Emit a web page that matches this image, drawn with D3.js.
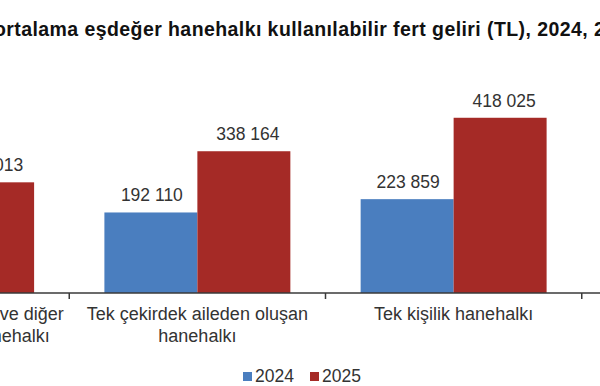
<!DOCTYPE html>
<html><head><meta charset="utf-8">
<script src="https://cdn.jsdelivr.net/npm/d3@7"></script>
<style>
html,body{margin:0;padding:0;background:#fff;overflow:hidden;}
svg{display:block;font-family:"Liberation Sans",Arial,sans-serif;}
</style></head>
<body>
<svg id="chart" width="600" height="386"></svg>
<script>
// ---- data ----
const categories = [
  ["En az bir çekirdek aile ve diğer", "kişilerden oluşan hanehalkı"],
  ["Tek çekirdek aileden oluşan", "hanehalkı"],
  ["Tek kişilik hanehalkı"],
  ["Çekirdek aile olmayan", "birden fazla kişiden oluşan", "hanehalkı"]
];
const seriesNames = ["2024", "2025"];
const values2024 = [140500, 192110, 223859, 170000];
const values2025 = [264013, 338164, 418025, 330000];
const titleText = "Hanehalkı tipine göre ortalama eşdeğer hanehalkı kullanılabilir fert geliri (TL), 2024, 2025";
const titleVisibleStart = "ortalama";
const colors = ["#4a7ebf", "#a52a26"];

const fmt = v => d3.format(",")(v).replace(/,/g, " ");

const svg = d3.select("#chart");
const baseY = 293;
const x = d3.scaleBand().domain(d3.range(categories.length)).range([-187, 838]).paddingInner(0).paddingOuter(0);
const xs = d3.scaleBand().domain(seriesNames).range([0, x.bandwidth()]).paddingInner(0).paddingOuter(0.378);
const y = d3.scaleLinear().domain([0, 500000]).range([baseY, baseY - 209.6]);

const rows = categories.map((c, i) => ({i, vals: [values2024[i], values2025[i]]}));

// title
const title = svg.append("text").attr("y", 36).attr("font-size", 19.5).attr("letter-spacing", 0.42)
  .attr("font-weight", "bold").attr("fill", "#111").text(titleText);
const idx = titleText.indexOf(titleVisibleStart);
const pre = title.node().getSubStringLength(0, idx);
title.attr("x", -6 - pre);

// bars
const g = svg.selectAll("g.cat").data(rows).enter().append("g").attr("class", "cat")
  .attr("transform", d => `translate(${x(d.i)},0)`);
g.selectAll("rect").data(d => d.vals.map((v, k) => ({k, v}))).enter().append("rect")
  .attr("x", d => xs(seriesNames[d.k]))
  .attr("width", xs.bandwidth())
  .attr("y", d => y(d.v))
  .attr("height", d => baseY - y(d.v))
  .attr("fill", d => colors[d.k]);
const labelDx = [1, 4];
g.selectAll("text.val").data(d => d.vals.map((v, k) => ({k, v}))).enter().append("text")
  .attr("class", "val")
  .attr("x", d => xs(seriesNames[d.k]) + xs.bandwidth() / 2 + labelDx[d.k])
  .attr("y", d => y(d.v) - 11)
  .attr("text-anchor", "middle").attr("font-size", 17.5).attr("fill", "#333")
  .text(d => fmt(d.v));

// axis
svg.append("line").attr("x1", x.range()[0]).attr("x2", x.range()[1]).attr("y1", baseY).attr("y2", baseY)
  .attr("stroke", "#3a3a3a").attr("stroke-width", 1.5);
const edges = d3.range(categories.length + 1).map(i => x.range()[0] + i * x.step());
svg.selectAll("line.tick").data(edges).enter().append("line").attr("class", "tick")
  .attr("x1", d => d).attr("x2", d => d).attr("y1", baseY).attr("y2", baseY + 6)
  .attr("stroke", "#3a3a3a").attr("stroke-width", 1.5);

// category labels
g.each(function(d) {
  const t = d3.select(this).append("text").attr("text-anchor", "middle").attr("font-size", 18).attr("fill", "#333");
  categories[d.i].forEach((line, j) => {
    t.append("tspan").attr("x", x.bandwidth() / 2).attr("y", 320 + j * 22).text(line);
  });
});

// legend
const legend = svg.append("g");
const legX = [243, 310];
seriesNames.forEach((s, k) => {
  legend.append("rect").attr("x", legX[k]).attr("y", 372).attr("width", 9).attr("height", 9).attr("fill", colors[k]);
  legend.append("text").attr("x", legX[k] + 12).attr("y", 381.5).attr("font-size", 17.5).attr("fill", "#333").text(s);
});
</script>
</body></html>
